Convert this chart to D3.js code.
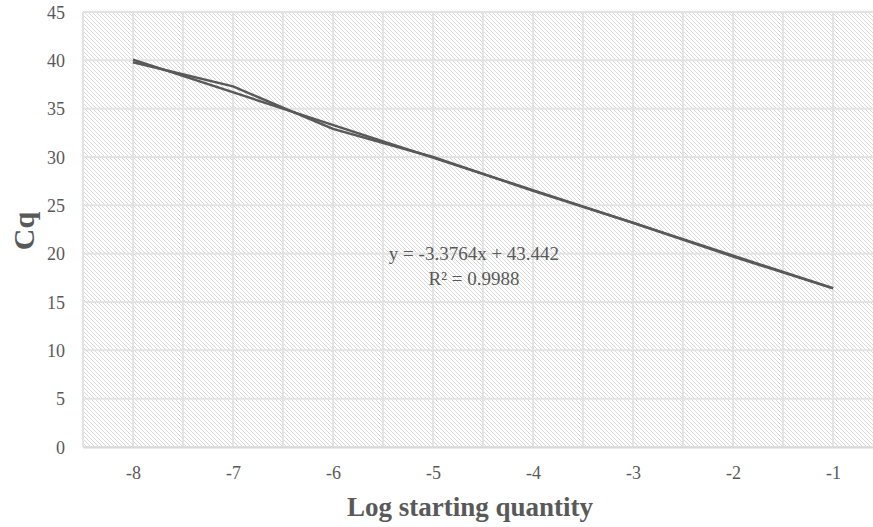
<!DOCTYPE html>
<html>
<head>
<meta charset="utf-8">
<script src="https://cdn.jsdelivr.net/npm/d3@7/dist/d3.min.js"></script>
<style>
body { margin: 0; background: #fff; }
svg { display: block; font-family: "Liberation Serif", "Times New Roman", serif; }
svg text { font-family: "Liberation Serif", "Times New Roman", serif; }
</style>
</head>
<body>
<div id="graphic"></div>
<script>
// data
var logQuantity = [-8, -7, -6, -5, -4, -3, -2, -1];
var cqValues = [39.8, 37.3, 32.9, 30.0, 26.5, 23.2, 19.7, 16.4];
var trendSlope = -3.3764;
var trendIntercept = 43.442;
var rSquared = 0.9988;
var yTicks = [0, 5, 10, 15, 20, 25, 30, 35, 40, 45];
var xGrid = [-8.5, -8, -7.5, -7, -6.5, -6, -5.5, -5, -4.5, -4, -3.5, -3, -2.5, -2, -1.5, -1, -0.5];

var width = 873, height = 527;
var margin = { top: 12, right: -10, bottom: 80, left: 83 };

var svg = d3.select("#graphic").append("svg")
	.attr("width", width)
	.attr("height", height);

var x = d3.scaleLinear().domain([-8.5, -0.5]).range([margin.left, width - margin.right]);
var y = d3.scaleLinear().domain([0, 45]).range([height - margin.bottom, margin.top]);

// hatched plot background
var defs = svg.append("defs");
var pat = defs.append("pattern")
	.attr("id", "hatch")
	.attr("patternUnits", "userSpaceOnUse")
	.attr("width", 4)
	.attr("height", 4);
pat.append("rect").attr("width", 4).attr("height", 4).attr("fill", "#fff");
pat.append("path")
	.attr("d", "M-1,-1 L5,5 M-1,3 L1,5 M3,-1 L5,1")
	.attr("stroke", "#d9d9d9")
	.attr("stroke-width", 1);

svg.append("rect")
	.attr("x", x(-8.5))
	.attr("y", y(45))
	.attr("width", x(-0.5) - x(-8.5))
	.attr("height", y(0) - y(45))
	.attr("fill", "url(#hatch)");

// gridlines
svg.append("g").selectAll("line")
	.data(yTicks)
	.enter().append("line")
	.attr("x1", x(-8.5)).attr("x2", x(-0.5))
	.attr("y1", function(d) { return y(d); })
	.attr("y2", function(d) { return y(d); })
	.attr("stroke", "#e3e3e3")
	.attr("stroke-width", 2);

svg.append("g").selectAll("line")
	.data(xGrid)
	.enter().append("line")
	.attr("x1", function(d) { return x(d); })
	.attr("x2", function(d) { return x(d); })
	.attr("y1", y(0)).attr("y2", y(45))
	.attr("stroke", "#e3e3e3")
	.attr("stroke-width", 2);

// axes
var yAxis = d3.axisLeft(y).tickValues(yTicks).tickSize(0).tickPadding(18)
	.tickFormat(function(d) { return String(d); });
var gy = svg.append("g")
	.attr("transform", "translate(" + x(-8.5) + ",0)")
	.call(yAxis);
gy.select(".domain").remove();
gy.selectAll("text")
	.attr("fill", "#595959")
	.attr("dy", "0.34em")
	.style("font-size", "18px");

var xAxis = d3.axisBottom(x).tickValues(logQuantity).tickSize(0).tickPadding(18)
	.tickFormat(function(d) { return String(d); });
var gx = svg.append("g")
	.attr("transform", "translate(0," + y(0) + ")")
	.call(xAxis);
gx.select(".domain").attr("stroke", "#d9d9d9").attr("stroke-width", 2);
gx.selectAll("text")
	.attr("fill", "#595959")
	.attr("dy", "0.8em")
	.style("font-size", "18px");

// trendline (Excel fits against category index 1..n)
var trend = logQuantity.map(function(d, i) {
	return { x: d, y: trendSlope * (i + 1) + trendIntercept };
});
var line = d3.line()
	.x(function(d) { return x(d.x); })
	.y(function(d) { return y(d.y); });

svg.append("path")
	.datum([trend[0], trend[trend.length - 1]])
	.attr("d", line)
	.attr("fill", "none")
	.attr("stroke", "#595959")
	.attr("stroke-width", 2.4);

svg.append("path")
	.datum(logQuantity.map(function(d, i) { return { x: d, y: cqValues[i] }; }))
	.attr("d", line)
	.attr("fill", "none")
	.attr("stroke", "#595959")
	.attr("stroke-width", 2.4)
	.attr("stroke-linejoin", "round");

// equation label
var eq = svg.append("text")
	.attr("x", 474)
	.attr("y", 260)
	.attr("text-anchor", "middle")
	.attr("fill", "#595959")
	.style("font-size", "19px");
eq.append("tspan").text("y = " + trendSlope + "x + " + trendIntercept);
eq.append("tspan").attr("x", 474).attr("dy", 25).text("R² = " + rSquared);

// axis titles
svg.append("text")
	.attr("x", 470)
	.attr("y", 516)
	.attr("text-anchor", "middle")
	.attr("fill", "#595959")
	.style("font-size", "27px")
	.style("font-weight", "bold")
	.text("Log starting quantity");

svg.append("text")
	.attr("transform", "translate(34,231) rotate(-90)")
	.attr("text-anchor", "middle")
	.attr("fill", "#595959")
	.style("font-size", "30px")
	.style("font-weight", "bold")
	.text("Cq");
</script>
</body>
</html>
